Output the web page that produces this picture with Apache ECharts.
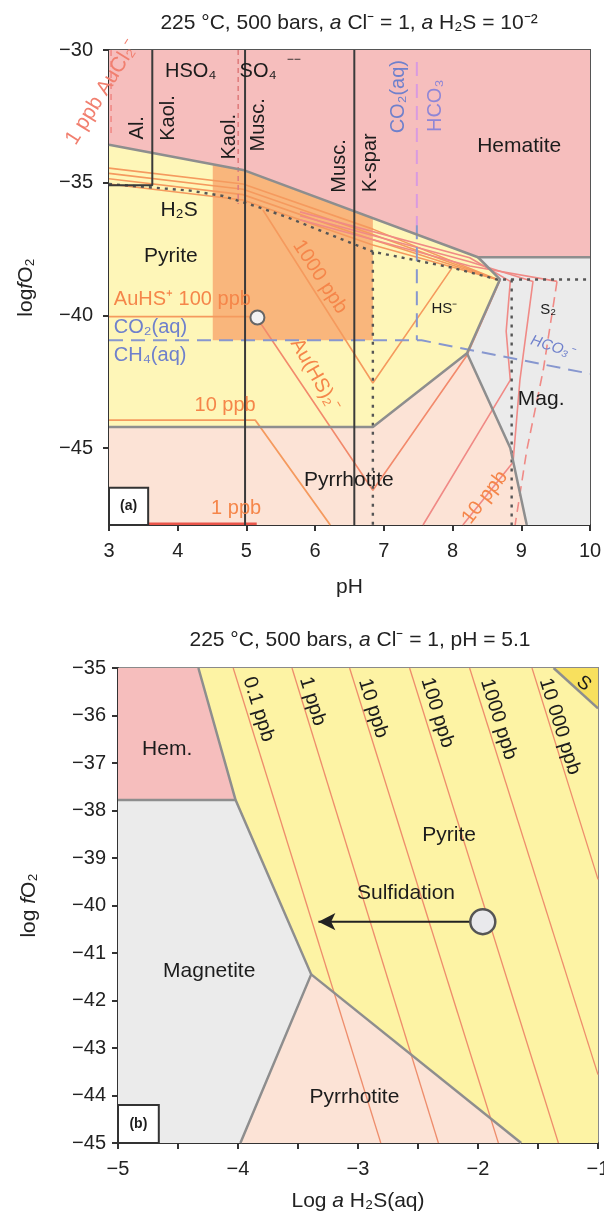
<!DOCTYPE html>
<html><head><meta charset="utf-8">
<script src="https://cdn.jsdelivr.net/npm/echarts/dist/echarts.min.js"></script>
<style>html,body{margin:0;padding:0;background:#fff}#c{width:604px;height:1213px}</style>
</head><body><div id="c"></div>
<script>
const FONT = '"Liberation Sans", Arial, Helvetica, sans-serif';
// ================= Panel (a): pH vs log fO2 =================
const aYTicks = [-45, -40, -35, -30];
const aHematite   = [[3,-30],[10,-30],[10,-37.81],[8.37,-37.81],[4.95,-34.52],[3,-33.57]];
const aPyrite     = [[3,-33.57],[4.95,-34.52],[8.37,-37.81],[8.69,-38.64],[8.21,-41.43],[6.84,-44.21],[3,-44.21]];
const aMagnetite  = [[8.37,-37.81],[10,-37.81],[10,-47.9],[9.08,-47.9],[8.84,-45.0],[8.21,-41.43],[8.69,-38.64]];
const aPyrrhotite = [[3,-44.21],[6.84,-44.21],[8.21,-41.43],[8.84,-45.0],[9.08,-47.9],[3,-47.9]];
const aOreZone    = [[4.51,-34.33],[4.95,-34.52],[6.84,-36.33],[6.84,-40.94],[4.51,-40.94]];
// phase boundaries
const aBndHem   = [[3,-33.57],[4.95,-34.52],[8.37,-37.81],[10,-37.81]];
const aBndPyMag = [[8.37,-37.81],[8.69,-38.64],[8.21,-41.43]];
const aBndPyPo  = [[3,-44.21],[6.84,-44.21],[8.21,-41.43]];
const aBndMagPo = [[8.21,-41.43],[8.84,-45.0],[9.08,-47.9]];
// silicate boundaries
const aAlKaol   = [[3.63,-30],[3.63,-35.1],[3,-35.1]];
const aKaolMusc = [[4.98,-30],[4.98,-47.9]];
const aMuscKsp  = [[6.57,-30],[6.57,-47.9]];
// aqueous sulfur / carbon boundaries
const aSulfate  = [[3,-35.05],[4.18,-35.3],[4.66,-35.5],[5.15,-35.9],[5.59,-36.3],[6.26,-37.0],[6.84,-37.6],[7.99,-38.2],[8.65,-38.65],[10,-38.65]];
const aH2SHS    = [[6.84,-37.6],[6.84,-47.9]];
const aHSS2     = [[8.86,-38.65],[8.86,-47.9]];
const aHSO4SO4  = [[4.88,-30],[4.88,-35.8]];
const aCO2HCO3u = [[7.48,-30.45],[7.48,-36.6]];
const aCO2HCO3l = [[7.48,-36.6],[7.48,-40.94]];
const aCO2CH4   = [[3,-40.94],[7.55,-40.94],[10,-42.2]];
// gold isopleths
const aBundle1 = [[3,-34.45],[4.95,-35.05],[6.84,-36.75],[8.65,-38.65]];
const aBundle2 = [[3,-34.65],[4.95,-35.25],[6.84,-36.95],[8.65,-38.65]];
const aBundle3 = [[3,-34.85],[4.95,-35.45],[6.84,-37.15],[8.65,-38.65]];
const aBundle4 = [[3,-35.05],[4.95,-35.65],[6.84,-37.35],[8.65,-38.65]];
const aIso1000 = [[5.24,-36.03],[6.84,-42.55],[7.99,-38.22]];
const aIso100h = [[3,-40.05],[5.15,-40.05]];
const aIso100  = [[5.15,-40.08],[6.84,-46.59],[8.21,-41.5],[8.69,-38.68]];
const aIso10h  = [[3,-43.95],[5.13,-43.95],[6.22,-47.9]];
const aIso1h   = [[3.57,-47.85],[5.15,-47.85]];
const aPink1   = [[7.57,-47.9],[8.84,-42.44],[8.78,-40.6],[8.84,-38.72],[8.25,-37.83],[5.78,-36.1]];
const aPink2   = [[8.15,-47.9],[8.88,-45.54],[8.98,-42.44],[9.17,-38.72],[8.25,-37.98],[5.78,-36.25]];
const aPink3   = [[9.52,-38.72],[8.25,-38.14],[5.78,-36.4]];
const aPink3d  = [[9.52,-38.72],[9.32,-42.06],[9.08,-45.08],[8.91,-47.9]];
const aAuCl    = [[3.03,-30],[3.03,-33.3]];
const aSample  = [[5.16,-40.08]];
const aBox     = [[3,-47.9],[3.57,-47.9],[3.57,-46.5],[3,-46.5]];

// ================= Panel (b): log a H2S vs log fO2 =================
const bHem  = [[-5,-35],[-4.33,-35],[-4.02,-37.78],[-5,-37.78]];
const bMag  = [[-5,-37.78],[-4.02,-37.78],[-3.39,-41.45],[-3.98,-45],[-5,-45]];
const bPo   = [[-3.39,-41.45],[-1.64,-45],[-3.98,-45]];
const bPy   = [[-4.33,-35],[-1.37,-35],[-1,-35.85],[-1,-45],[-1.64,-45],[-3.39,-41.45],[-4.02,-37.78]];
const bS    = [[-1.37,-35],[-1,-35],[-1,-35.85]];
const bBnd1 = [[-4.33,-35],[-4.02,-37.78],[-3.39,-41.45],[-3.98,-45]];
const bBnd2 = [[-5,-37.78],[-4.02,-37.78]];
const bBnd3 = [[-3.39,-41.45],[-1.64,-45]];
const bBnd4 = [[-1.37,-35],[-1,-35.85]];
const bIsoTopX  = [-4.04, -3.55, -3.07, -2.57, -2.07, -1.55];
const bIsoEnd   = [[-2.81,-45],[-2.33,-45],[-1.83,-45],[-1.33,-45],[-1,-43.56],[-1,-39.45]];
const bIsoNames = ['0.1 ppb','1 ppb','10 ppb','100 ppb','1000 ppb','10 000 ppb'];
const bIsoLabelPos = [[-3.83,-35.87],[-3.38,-35.7],[-2.875,-35.85],[-2.34,-35.94],[-1.83,-36.08],[-1.32,-36.23]];
const bSample = [[-1.96,-40.34]];
const bArrowEnd = [-3.33,-40.34];
const bBox  = [[-5,-45],[-4.66,-45],[-4.66,-44.2],[-5,-44.2]];

// ================= annotation text =================
const DARK='#1c1c1c', ORANGE='#f5864a', BLUE='#6f80cc', SALMON='#f17f6f';
const labelsA = [
  {x:4.19,y:-30.82,t:'HSO₄'},{x:5.17,y:-30.82,t:'SO₄'},{x:5.69,y:-30.37,t:'−−',s:12},
  {x:3.42,y:-32.93,t:'Al.',r:90},{x:3.86,y:-32.56,t:'Kaol.',r:90},{x:4.75,y:-33.27,t:'Kaol.',r:90},
  {x:5.18,y:-32.82,t:'Musc.',r:90},{x:6.36,y:-34.37,t:'Musc.',r:90},{x:6.8,y:-34.25,t:'K-spar',r:90},
  {x:7.21,y:-31.76,t:'CO₂(aq)',r:90,c:BLUE},{x:7.75,y:-32.1,t:'HCO₃',r:90,c:'#8f86d6'},
  {x:8.97,y:-33.61,t:'Hematite',s:21},{x:4.02,y:-36.03,t:'H₂S',s:21},{x:3.9,y:-37.77,t:'Pyrite',s:21},
  {x:3.07,y:-39.42,t:'AuHS⁺ 100 ppb',c:ORANGE,a:'left'},
  {x:3.07,y:-40.44,t:'CO₂(aq)',c:BLUE,a:'left'},{x:3.07,y:-41.53,t:'CH₄(aq)',c:BLUE,a:'left'},
  {x:6.07,y:-38.55,t:'1000 ppb',r:-57,c:ORANGE},{x:6.0,y:-42.25,t:'Au(HS)₂⁻',r:-60,c:ORANGE},
  {x:7.88,y:-39.76,t:'HS⁻',s:15},{x:9.39,y:-39.79,t:'S₂',s:15},
  {x:9.45,y:-41.19,t:'HCO₃⁻',r:-18,c:BLUE,i:1,s:15},
  {x:4.69,y:-43.38,t:'10 ppb',c:ORANGE},{x:9.29,y:-43.16,t:'Mag.',s:21},{x:6.49,y:-46.21,t:'Pyrrhotite',s:21},
  {x:8.47,y:-46.86,t:'10 ppb',r:52,c:ORANGE},{x:4.85,y:-47.27,t:'1 ppb',c:ORANGE},
  {x:2.9,y:-31.6,t:'1 ppb AuCl₂⁻',r:58,c:SALMON,s:21},
  {x:3.285,y:-47.2,t:'(a)',s:14,b:1}
];
const labelsB = [
  {x:-4.59,y:-36.72,t:'Hem.',s:21},{x:-1.12,y:-35.33,t:'S',r:-40,s:19},
  {x:-2.24,y:-38.53,t:'Pyrite',s:21},{x:-2.6,y:-39.75,t:'Sulfidation',s:21},
  {x:-4.24,y:-41.39,t:'Magnetite',s:21},{x:-3.03,y:-44.04,t:'Pyrrhotite',s:21},
  {x:-4.83,y:-44.6,t:'(b)',s:14,b:1}
].concat(bIsoNames.map((n,i)=>({x:bIsoLabelPos[i][0],y:bIsoLabelPos[i][1],t:n,r:-72.7})));

// ================= helpers =================
function poly(pts, fill, gi, z, stroke){
  return {type:'custom', xAxisIndex:gi, yAxisIndex:gi, silent:true, z:z||1, animation:false,
    data:[pts[0]],
    renderItem:(p,api)=>({type:'polygon', shape:{points:pts.map(q=>api.coord(q))},
      style:{fill:fill, stroke:stroke||null, lineWidth:stroke?2:0}})};
}
function line(pts, color, width, gi, type, z){
  return {type:'line', xAxisIndex:gi, yAxisIndex:gi, data:pts, symbol:'none', showSymbol:false,
    silent:true, z:z||3, animation:false, lineStyle:{color:color, width:width, type:type||'solid'}};
}
function labels(list, gi){
  return {type:'custom', xAxisIndex:gi, yAxisIndex:gi, silent:true, z:30, animation:false,
    data:list.map(l=>[l.x,l.y]),
    renderItem:(p,api)=>{
      const l=list[p.dataIndex]; const c=api.coord([l.x,l.y]);
      return {type:'text', x:c[0], y:c[1], rotation:(l.r||0)*Math.PI/180,
        style:{text:l.t, fill:l.c||DARK, fontSize:l.s||20, fontFamily:FONT,
          fontStyle:l.i?'italic':'normal', fontWeight:l.b?'bold':'normal',
          align:l.a||'center', verticalAlign:'middle'}};
    }};
}
const minus = v => String(v).replace('-', '−');
const richName = {n:{fontSize:21,color:'#222',fontFamily:FONT}, i:{fontSize:21,color:'#222',fontFamily:FONT,fontStyle:'italic'}};

const GRAY='#8e8e8e', PINKLINE='#f08a86', ORLINE='#f59a5e';
const series = [
  // panel a regions
  poly(aHematite,'#f6bebd',0), poly(aPyrite,'#fef6b8',0), poly(aMagnetite,'#ebebeb',0),
  poly(aPyrrhotite,'#fce3d6',0), poly(aOreZone,'#f9b67c',0,2),
  // isopleths a
  line(aBundle1,ORLINE,1.6,0), line(aBundle2,ORLINE,1.6,0), line(aBundle3,ORLINE,1.6,0), line(aBundle4,ORLINE,1.6,0),
  line(aIso1000,ORLINE,1.6,0), line(aIso100h,ORLINE,1.8,0), line(aIso100,'#f28a6c',1.6,0),
  line(aIso10h,ORLINE,1.8,0), line(aIso1h,'#e9554a',2.5,0),
  line(aPink1,PINKLINE,1.6,0), line(aPink2,PINKLINE,1.6,0), line(aPink3,PINKLINE,1.6,0), line(aPink3d,PINKLINE,1.6,0,[10,6]),
  line(aAuCl,PINKLINE,1.6,0,[6,5]),
  // aqueous boundaries
  line(aCO2CH4,'#8797cf',2,0,[14,8],4), line(aCO2HCO3u,'#d99be0',2,0,[14,8],4), line(aCO2HCO3l,'#8797cf',2,0,[14,8],4),
  line(aHSO4SO4,'#e07e7e',1.6,0,[5,4],4),
  line(aSulfate,'#555',2.4,0,[3,5],5), line(aH2SHS,'#555',2.4,0,[3,6],5), line(aHSS2,'#555',2.4,0,[3,6],5),
  // phase boundaries
  line(aBndHem,GRAY,2.5,0,'solid',6), line(aBndPyMag,GRAY,2.5,0,'solid',6),
  line(aBndPyPo,GRAY,2.5,0,'solid',6), line(aBndMagPo,GRAY,2.5,0,'solid',6),
  line(aAlKaol,'#3a3a3a',2,0,'solid',7), line(aKaolMusc,'#3a3a3a',2,0,'solid',7), line(aMuscKsp,'#3a3a3a',2,0,'solid',7),
  {type:'scatter', xAxisIndex:0, yAxisIndex:0, data:aSample, symbolSize:14, silent:true, z:15, animation:false,
    itemStyle:{color:'#f2f2f2', borderColor:'#666', borderWidth:2, opacity:1}},
  poly(aBox,'#ffffff',0,20,'#333'),
  labels(labelsA,0),
  // panel b regions
  poly(bHem,'#f6bebd',1), poly(bMag,'#ebebeb',1), poly(bPo,'#fce3d6',1), poly(bPy,'#fdf3a4',1), poly(bS,'#f8e05e',1),
].concat(bIsoTopX.map((x,i)=>line([[x,-35], bIsoEnd[i]], '#ee8d6c', 1.3, 1))).concat([
  line(bBnd1,GRAY,2.5,1,'solid',6), line(bBnd2,GRAY,2.5,1,'solid',6), line(bBnd3,GRAY,2.5,1,'solid',6), line(bBnd4,GRAY,2.5,1,'solid',6),
  {type:'line', xAxisIndex:1, yAxisIndex:1, silent:true, z:12, animation:false, symbol:'none',
    data:[{value:bSample[0]},{value:bArrowEnd, symbol:'arrow', symbolSize:[13,17], symbolRotate:90}],
    lineStyle:{color:'#222', width:2}, itemStyle:{color:'#222'}},
  {type:'scatter', xAxisIndex:1, yAxisIndex:1, data:bSample, symbolSize:25, silent:true, z:15, animation:false,
    itemStyle:{color:'#e9e9ec', borderColor:'#555', borderWidth:2.5, opacity:1}},
  poly(bBox,'#ffffff',1,20,'#333'),
  labels(labelsB,1)
]);

const axisCommon = {
  axisLine:{show:true, onZero:false, lineStyle:{color:'#333', width:2}},
  axisTick:{show:true, length:6, lineStyle:{color:'#333', width:2}},
  splitLine:{show:false},
};
const option = {
  animation:false,
  backgroundColor:'#fff',
  grid:[
    {left:109, top:50, width:481, height:475, show:true, borderColor:'#555', borderWidth:2, backgroundColor:'transparent', outerBoundsMode:'none', containLabel:false},
    {left:118, top:668, width:480, height:475, show:true, borderColor:'#8a8a8a', borderWidth:2, backgroundColor:'transparent', outerBoundsMode:'none', containLabel:false}
  ],
  xAxis:[
    Object.assign({gridIndex:0, type:'value', min:3, max:10, interval:1,
      axisLabel:{fontSize:20, color:'#222', fontFamily:FONT, margin:16},
      name:'pH', nameLocation:'middle', nameGap:52, nameTextStyle:{fontSize:21, color:'#222', fontFamily:FONT}}, axisCommon),
    Object.assign({gridIndex:1, type:'value', min:-5, max:-1, interval:0.5,
      axisLabel:{fontSize:20, color:'#222', fontFamily:FONT, margin:16,
        formatter:v=>Number.isInteger(v)?minus(v):''},
      name:'Log {i|a} H₂S(aq)', nameLocation:'middle', nameGap:48,
      nameTextStyle:{fontSize:21, color:'#222', fontFamily:FONT, rich:richName}}, axisCommon)
  ],
  yAxis:[
    Object.assign({gridIndex:0, type:'value', min:-47.9, max:-30,
      axisLabel:{fontSize:20, color:'#222', fontFamily:FONT, margin:16, customValues:aYTicks, formatter:v=>minus(v)},
      name:'{n|log}{i|f}{n|O₂}', nameLocation:'middle', nameGap:72,
      nameTextStyle:{rich:richName}}, axisCommon,
      {axisTick:{show:true, length:6, customValues:aYTicks, lineStyle:{color:'#333', width:2}}}),
    Object.assign({gridIndex:1, type:'value', min:-45, max:-35, interval:1,
      axisLabel:{fontSize:20, color:'#222', fontFamily:FONT, margin:12, formatter:v=>minus(v)},
      name:'{n|log }{i|f}{n|O₂}', nameLocation:'middle', nameGap:78,
      nameTextStyle:{rich:richName}}, axisCommon)
  ],
  graphic:[
    {type:'text', x:349, y:23, style:{text:'225 °C, 500 bars, {i|a} Cl⁻ = 1, {i|a} H₂S = 10⁻²',
      fill:'#222', fontSize:21, fontFamily:FONT, align:'center', verticalAlign:'middle', rich:richName}},
    {type:'text', x:360, y:640, style:{text:'225 °C, 500 bars, {i|a} Cl⁻ = 1, pH = 5.1',
      fill:'#222', fontSize:21, fontFamily:FONT, align:'center', verticalAlign:'middle', rich:richName}}
  ],
  series: series
};
const chart = echarts.init(document.getElementById('c'), null, {renderer:'canvas'});
chart.setOption(option);
</script></body></html>
